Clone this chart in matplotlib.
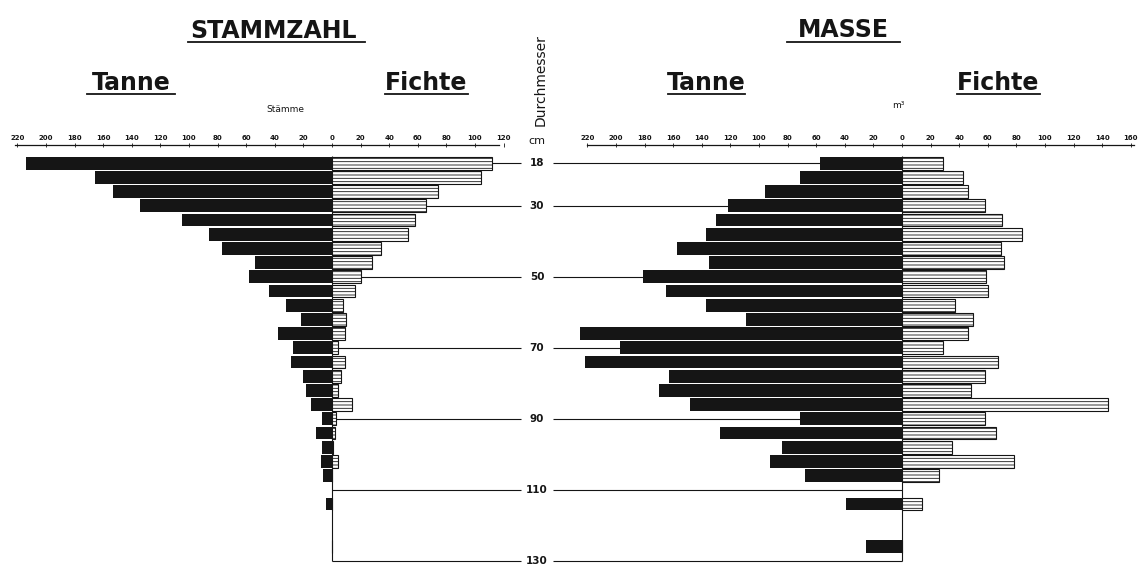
import numpy as np
import matplotlib.pyplot as plt
from matplotlib.lines import Line2D

# Durchmesserstufen (cm), 4-cm-Klassen
diameters = [18, 22, 26, 30, 34, 38, 42, 46, 50, 54, 58, 62, 66,
             70, 74, 78, 82, 86, 90, 94, 98, 102, 106, 114, 126]

# Stammzahl (Stämme)
stamm_tanne = [214, 166, 153, 134, 105, 86, 77, 54, 58, 44, 32, 22, 38,
               27, 29, 20, 18, 15, 7, 11, 7, 8, 6, 4, 0]
stamm_fichte = [112, 104, 74, 66, 58, 53, 34, 28, 20, 16, 8, 10, 9,
                4, 9, 6, 4, 14, 3, 2, 1, 4, 0, 0, 0]

# Masse (m³)
masse_tanne = [57, 71, 96, 122, 130, 137, 157, 135, 181, 165, 137, 109, 226,
               197, 222, 163, 170, 148, 71, 127, 84, 92, 68, 39, 25]
masse_fichte = [29, 43, 46, 58, 70, 84, 69, 71, 59, 60, 37, 50, 46,
                29, 67, 58, 48, 144, 58, 66, 35, 78, 26, 14, 0]

marks = [18, 30, 50, 70, 90, 110, 130]
stamm_ticks = list(range(-220, 121, 20))
masse_ticks = list(range(-220, 161, 20))

INK = '#151515'
W, H = 1139, 567
PX_UNIT = 1.43    # pixel je Stamm bzw. m³
PX_CM = 3.548     # pixel je cm Durchmesser
Y18 = 163.3       # Pixelzeile der 18-cm-Stufe
YMIN, YMAX = 11, 131.8
AXIS_Y = 12.84


def px_axes(x_zero, xmin, xmax):
    left = x_zero + xmin * PX_UNIT
    width = (xmax - xmin) * PX_UNIT
    top = Y18 + (YMIN - 18) * PX_CM
    bottom = Y18 + (YMAX - 18) * PX_CM
    return [left / W, 1 - bottom / H, width / W, (bottom - top) / H]


def draw_side(ax, tanne, fichte, ticks, xlim, bounds):
    ax.set_xlim(*xlim)
    ax.set_ylim(YMAX, YMIN)
    ax.patch.set_visible(False)
    for s in ['left', 'right', 'bottom']:
        ax.spines[s].set_visible(False)
    ax.spines['top'].set_position(('data', AXIS_Y))
    ax.spines['top'].set_bounds(*bounds)
    ax.spines['top'].set_linewidth(0.9)
    ax.spines['top'].set_color(INK)
    ax.xaxis.set_ticks_position('top')
    ax.set_xticks(ticks)
    ax.set_xticklabels([str(abs(t)) for t in ticks])
    ax.tick_params(axis='x', length=2.5, width=0.6, pad=1.5, labelsize=5,
                   direction='inout', colors=INK)
    for lab in ax.get_xticklabels():
        lab.set_fontweight('bold')
    ax.set_yticks([])

    ax.barh(diameters, -np.array(tanne), height=3.6, color=INK,
            linewidth=0, zorder=3)
    ax.barh(diameters, fichte, height=3.6, facecolor='white', edgecolor=INK,
            hatch='-----', linewidth=0.8, zorder=3)
    ax.vlines(0, 16, 130, color=INK, lw=0.8, zorder=2)


plt.rcParams['hatch.linewidth'] = 0.6
fig = plt.figure(figsize=(W / 100, H / 100), dpi=100)
fig.patch.set_facecolor('white')

ax1 = fig.add_axes(px_axes(332, -225, 125))
ax2 = fig.add_axes(px_axes(902, -225, 165))
draw_side(ax1, stamm_tanne, stamm_fichte, stamm_ticks, (-225, 125), (-222, 117))
draw_side(ax2, masse_tanne, masse_fichte, masse_ticks, (-225, 165), (-220, 162))

# Durchmesser-Linien zwischen beiden Nullachsen
ax1.hlines(marks, 0, 132.2, color=INK, lw=0.8, zorder=1, clip_on=False)
ax2.hlines(marks, -244, 0, color=INK, lw=0.8, zorder=1, clip_on=False)
for d in marks:
    ax1.text(143.4, d, str(d), ha='center', va='center', fontsize=7.5,
             fontweight='bold', color=INK, clip_on=False)
ax1.text(143.4, 11.7, 'cm', ha='center', va='center', fontsize=8, color=INK)
fig.text(541 / W, 1 - 80 / H, 'Durchmesser', rotation=90, ha='center',
         va='center', fontsize=10, color=INK)


def label(x, y, s, size, x0, x1, uy):
    fig.text(x / W, 1 - y / H, s, ha='center', va='baseline', fontsize=size,
             fontweight='bold', color=INK)
    fig.add_artist(Line2D([x0 / W, x1 / W], [1 - uy / H] * 2,
                          transform=fig.transFigure, color=INK, lw=1.3))


label(273, 38, 'STAMMZAHL', 17, 188, 365, 42)
label(843, 37, 'MASSE', 17, 787, 900, 42)
label(131, 90, 'Tanne', 17, 87, 175, 94)
label(426, 90, 'Fichte', 17, 385, 468, 94)
label(706, 90, 'Tanne', 17, 668, 745, 94)
label(998, 90, 'Fichte', 17, 957, 1040, 94)

fig.text(285 / W, 1 - 112 / H, 'Stämme', ha='center', va='baseline',
         fontsize=6.5, color=INK)
fig.text(898 / W, 1 - 108 / H, 'm³', ha='center', va='baseline',
         fontsize=6.5, color=INK)

fig.savefig('out.png', dpi=100)
